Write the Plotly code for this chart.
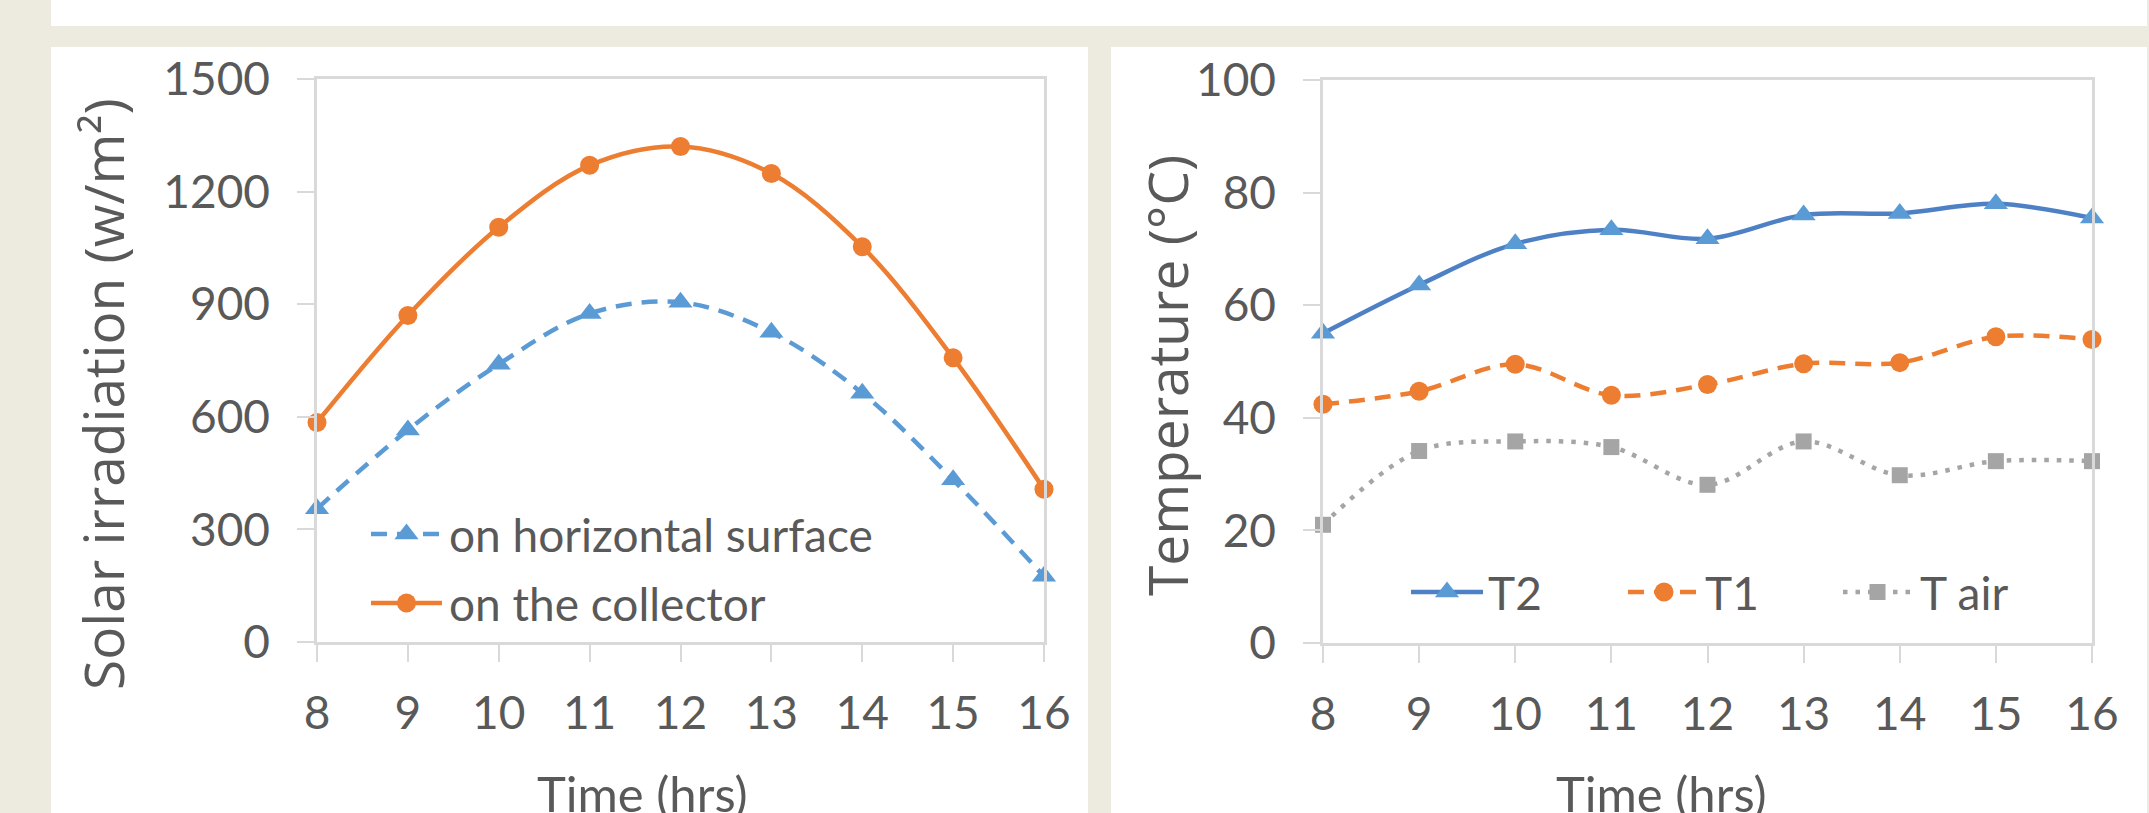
import plotly.graph_objects as go

# ---------------- data ----------------
hours = [8, 9, 10, 11, 12, 13, 14, 15, 16]
irr_horizontal = [355, 565, 740, 875, 905, 825, 663, 432, 175]
irr_collector = [585, 870, 1105, 1270, 1320, 1248, 1053, 757, 407]
t2 = [55.0, 63.6, 70.9, 73.4, 71.8, 76.0, 76.3, 78.0, 75.5]
t1 = [42.4, 44.7, 49.5, 44.0, 45.9, 49.6, 49.8, 54.4, 53.9]
t_air = [21.0, 34.1, 35.8, 34.8, 28.1, 35.8, 29.8, 32.3, 32.3]

irr_ticks = [0, 300, 600, 900, 1200, 1500]
temp_ticks = [0, 20, 40, 60, 80, 100]

# ---------------- layout helpers ----------------
W, H = 2149, 813
def px(x):
    return x / W
def py(y):
    return 1 - y / H

BEIGE = "#EDEAE0"
GRIDC = "#D9D9D9"
TXT = "#595959"
FAM = "Lato, Carlito, Open Sans, sans-serif"
TICKFONT = dict(family=FAM, size=46, color=TXT)
TITLEFONT = dict(family="Open Sans, Noto Sans, sans-serif", size=55, color=TXT)
LEGFONT = dict(family=FAM, size=46, color=TXT)

BLUE = "#5B9BD5"
BLUE_DARK = "#4E80C5"
ORANGE = "#ED7D31"
GRAY = "#A5A5A5"

styles = {
    "on horizontal surface": dict(line=dict(color=BLUE, width=4.5, dash="16px,10px"),
                                  marker=dict(symbol="triangle-up", size=21, color=BLUE)),
    "on the collector": dict(line=dict(color=ORANGE, width=4.5),
                             marker=dict(symbol="circle", size=19, color=ORANGE)),
    "T2": dict(line=dict(color=BLUE_DARK, width=4.5),
               marker=dict(symbol="triangle-up", size=21, color=BLUE)),
    "T1": dict(line=dict(color=ORANGE, width=4.5, dash="16px,10px"),
               marker=dict(symbol="circle", size=19, color=ORANGE)),
    "T air": dict(line=dict(color=GRAY, width=4.5, dash="4.5px,8px"),
                  marker=dict(symbol="square", size=16, color=GRAY)),
}

fig = go.Figure()

def add_series(x, y, name, xa, ya):
    st = styles[name]
    fig.add_trace(go.Scatter(
        x=x, y=y, name=name, mode="lines+markers",
        line=dict(shape="spline", smoothing=1, **st["line"]),
        marker=st["marker"], xaxis=xa, yaxis=ya, showlegend=False, cliponaxis=False))

add_series(hours, irr_horizontal, "on horizontal surface", "x", "y")
add_series(hours, irr_collector, "on the collector", "x", "y")
add_series(hours, t2, "T2", "x2", "y2")
add_series(hours, t1, "T1", "x2", "y2")
add_series(hours, t_air, "T air", "x2", "y2")

# ---------------- hand-drawn legends (pixel overlay axis) ----------------
legend_items = [
    # name, line x-start, line x-end, y-center, text x
    ("on horizontal surface", 371, 442, 534, 447),
    ("on the collector", 371, 442, 603, 447),
    ("T2", 1411, 1483, 592, 1486),
    ("T1", 1628, 1700, 592, 1703),
    ("T air", 1843, 1912, 592, 1918),
]
annotations = []
for name, xs, xe, yc, xt in legend_items:
    st = styles[name]
    fig.add_trace(go.Scatter(x=[xs, xe], y=[yc, yc], mode="lines", line=st["line"],
                             xaxis="x3", yaxis="y3", showlegend=False, cliponaxis=False,
                             hoverinfo="skip"))
    fig.add_trace(go.Scatter(x=[(xs + xe) / 2], y=[yc], mode="markers", marker=st["marker"],
                             xaxis="x3", yaxis="y3", showlegend=False, cliponaxis=False,
                             hoverinfo="skip"))
    annotations.append(dict(text=name, xref="paper", yref="paper", x=px(xt), y=py(yc),
                            xanchor="left", yanchor="middle", showarrow=False, font=LEGFONT))

axis_common = dict(
    showgrid=False, zeroline=False, showline=True, linecolor=GRIDC, linewidth=2.5,
    mirror=True, ticks="outside", ticklen=17, tickwidth=2, tickcolor=GRIDC,
    tickfont=TICKFONT, automargin=False, fixedrange=True)

annotations += [
    dict(text="Solar irradiation (w/m²)", textangle=-90, xref="paper", yref="paper",
         x=px(102), y=py(394), xanchor="center", yanchor="middle", showarrow=False, font=TITLEFONT),
    dict(text="Temperature (°C)", textangle=-90, xref="paper", yref="paper",
         x=px(1167), y=py(376), xanchor="center", yanchor="middle", showarrow=False, font=TITLEFONT),
    dict(text="Time (hrs)", xref="paper", yref="paper",
         x=px(642), y=py(762), xanchor="center", yanchor="top", showarrow=False,
         font=dict(family=FAM, size=49, color=TXT)),
    dict(text="Time (hrs)", xref="paper", yref="paper",
         x=px(1661), y=py(762), xanchor="center", yanchor="top", showarrow=False,
         font=dict(family=FAM, size=49, color=TXT)),
]

fig.update_layout(
    width=W, height=H,
    margin=dict(l=0, r=0, t=0, b=0),
    paper_bgcolor=BEIGE, plot_bgcolor="rgba(0,0,0,0)",
    showlegend=False,
    xaxis=dict(domain=[px(317), px(1044)], range=[8, 16], tickvals=hours, anchor="y",
               ticklabelstandoff=12, **axis_common),
    yaxis=dict(domain=[py(642), py(79)], range=[0, 1500], tickvals=irr_ticks, anchor="x",
               ticklabelstandoff=18, **axis_common),
    xaxis2=dict(domain=[px(1323), px(2092)], range=[8, 16], tickvals=hours, anchor="y2",
                ticklabelstandoff=12, **axis_common),
    yaxis2=dict(domain=[py(643), py(80)], range=[0, 100], tickvals=temp_ticks, anchor="x2",
                ticklabelstandoff=18, **axis_common),
    xaxis3=dict(domain=[0, 1], range=[0, W], visible=False, anchor="y3", fixedrange=True),
    yaxis3=dict(domain=[0, 1], range=[H, 0], visible=False, anchor="x3", fixedrange=True),
    shapes=[
        dict(type="rect", xref="paper", yref="paper", x0=px(51), x1=px(2147), y0=py(26), y1=1,
             fillcolor="white", line=dict(width=0), layer="below"),
        dict(type="rect", xref="paper", yref="paper", x0=px(51), x1=px(1088), y0=0, y1=py(47),
             fillcolor="white", line=dict(width=0), layer="below"),
        dict(type="rect", xref="paper", yref="paper", x0=px(1111), x1=px(2147), y0=0, y1=py(47),
             fillcolor="white", line=dict(width=0), layer="below"),
    ],
    annotations=annotations,
)

fig.write_html(
    "out.html",
    config={"displayModeBar": False},
    post_script="document.body.style.margin='0';document.body.style.padding='0';"
                "document.body.style.overflow='hidden';document.body.style.background='" + BEIGE + "';",
)
